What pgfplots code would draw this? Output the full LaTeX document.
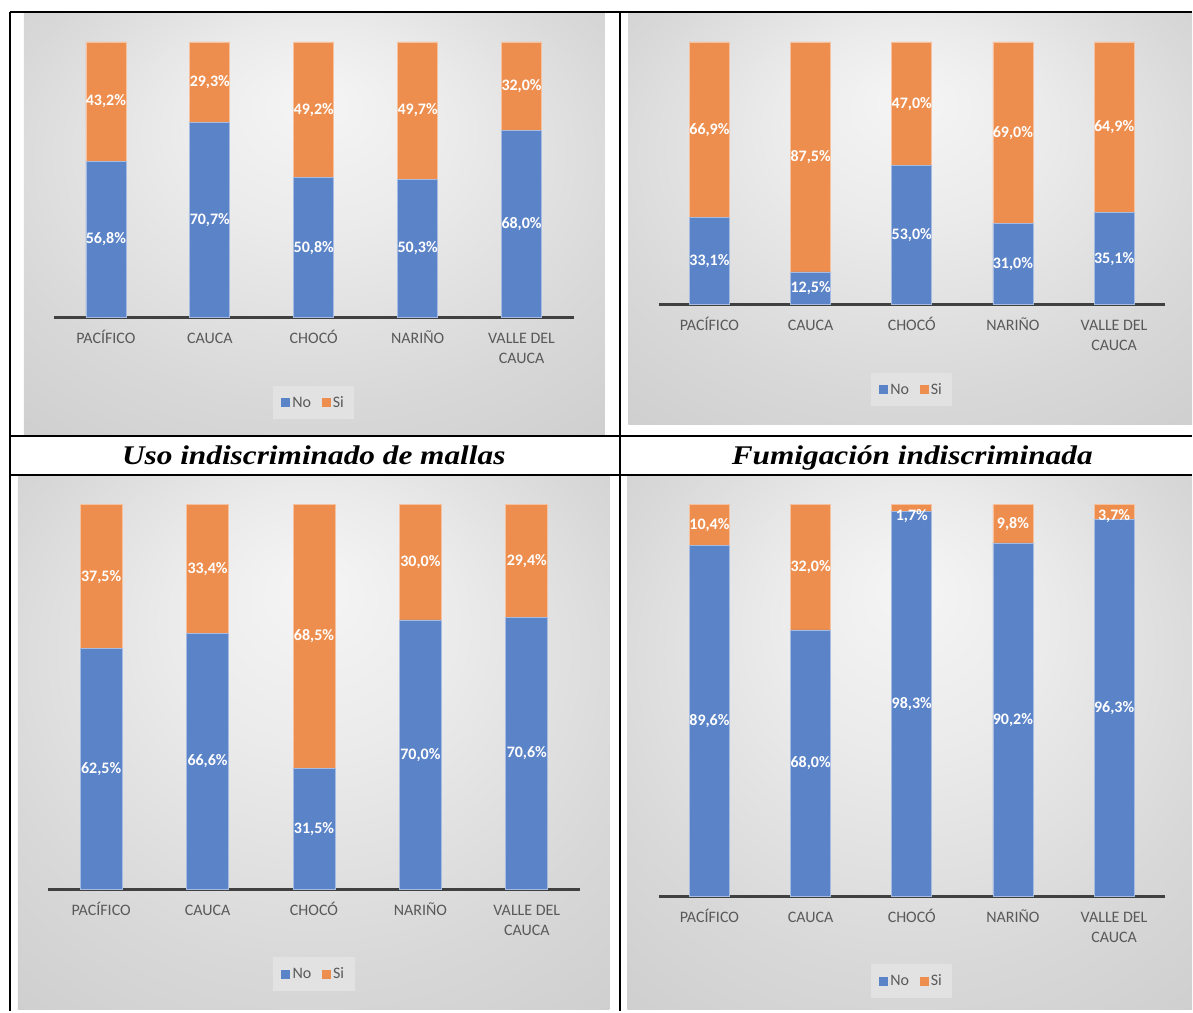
\documentclass[border=0pt]{standalone}
\usepackage{pgfplots}
\pgfplotsset{compat=1.18}
\usepackage{graphicx}
\usepackage{fontspec}
\setmainfont{Carlito}
\newfontfamily\capfont{Liberation Serif}
\definecolor{cno}{HTML}{5B83C8}
\definecolor{csi}{HTML}{EE8E4E}
\definecolor{axgray}{HTML}{404040}
\definecolor{lblgray}{HTML}{595959}
\definecolor{leggray}{HTML}{E2E2E2}
\definecolor{pa}{HTML}{F5F5F5}
\definecolor{pb}{HTML}{EBEBEB}
\definecolor{pc}{HTML}{D8D8D8}
\definecolor{pd}{HTML}{C9C9C9}
\pgfdeclareradialshading{panelshade}{\pgfpoint{0bp}{15bp}}{color(0bp)=(pa); color(12bp)=(pb); color(28bp)=(pc); color(45bp)=(pd); color(50bp)=(pd)}
\pgfplotsset{
 chartstyle/.style={
  ybar stacked, bar width=40pt,
  xmin=-0.5, xmax=4.5, ymin=0, ymax=100,
  enlargelimits=false, clip=false,
  axis x line*=bottom, axis y line=none,
  x axis line style={line width=3.5pt, color=axgray, -},
  xtick={0,1,2,3,4},
  xticklabels={PACÍFICO,CAUCA,CHOCÓ,NARIÑO,{VALLE DEL\\CAUCA}},
  major tick length=0pt,
  typeset ticklabels with strut,
  xticklabel style={align=center, text=lblgray, font=\fontsize{16}{20}\selectfont, yshift=-8.5pt},
  ytick=\empty,
  legend style={at={(0.5,0)}, anchor=center, yshift=-85pt, draw=none, fill=leggray,
    legend columns=2, font=\fontsize{16}{19}\selectfont, text=lblgray,
    inner xsep=8pt, inner ysep=8pt,
    nodes={inner sep=2.5pt},
    /tikz/every even column/.append style={column sep=8pt}},
  visualization depends on=rawy \as \rawy,
  nodes near coords={\pgfmathprintnumber[fixed,fixed zerofill,precision=1,use comma,assume math mode=true]{\rawy}\%},
  every node near coord/.append style={anchor=center, text=white,
    font=\bfseries\fontsize{16}{18}\selectfont, inner sep=0pt,
    yshift={-max(0,12-\rawy*\yu/2)*1pt}},
 },
 nostyle/.style={fill=cno, draw=cno!55!white, line width=0.7pt,
   legend image code/.code={\fill[cno] (0pt,-4pt) rectangle (8pt,4pt);}},
 sistyle/.style={fill=csi, draw=csi!55!white, line width=0.7pt,
   legend image code/.code={\fill[csi] (0pt,-4pt) rectangle (8pt,4pt);}},
}
\begin{document}
\begin{tikzpicture}
\path (0,0) rectangle (1193pt,1012pt);
% panels
\shade[shading=panelshade] (24pt,576pt) rectangle (605pt,999pt);
\shade[shading=panelshade] (629pt,587pt) rectangle (1193pt,999pt);
\shade[shading=panelshade] (18pt,2pt) rectangle (610pt,536pt);
\shade[shading=panelshade] (628pt,2pt) rectangle (1193pt,536pt);

% chart 1
\def\yu{2.76}
\begin{axis}[chartstyle, at={(54pt,694pt)}, anchor=south west, x=104pt, y=2.76pt]
\addplot[nostyle] coordinates {(0,56.8) (1,70.7) (2,50.8) (3,50.3) (4,68.0)};
\addplot[sistyle] coordinates {(0,43.2) (1,29.3) (2,49.2) (3,49.7) (4,32.0)};
\legend{No,Si}
\end{axis}

% chart 2
\def\yu{2.63}
\begin{axis}[chartstyle, at={(659.4pt,707pt)}, anchor=south west, x=101.25pt, y=2.63pt]
\addplot[nostyle] coordinates {(0,33.1) (1,12.5) (2,53.0) (3,31.0) (4,35.1)};
\addplot[sistyle] coordinates {(0,66.9) (1,87.5) (2,47.0) (3,69.0) (4,64.9)};
\legend{No,Si}
\end{axis}

% chart 3
\def\yu{3.85}
\begin{axis}[chartstyle, bar width=42pt, at={(48pt,122pt)}, anchor=south west, x=106.5pt, y=3.85pt]
\addplot[nostyle] coordinates {(0,62.5) (1,66.6) (2,31.5) (3,70.0) (4,70.6)};
\addplot[sistyle] coordinates {(0,37.5) (1,33.4) (2,68.5) (3,30.0) (4,29.4)};
\legend{No,Si}
\end{axis}

% chart 4
\def\yu{3.92}
\begin{axis}[chartstyle, at={(659.4pt,115pt)}, anchor=south west, x=101.25pt, y=3.92pt]
\addplot[nostyle] coordinates {(0,89.6) (1,68.0) (2,98.3) (3,90.2) (4,96.3)};
\addplot[sistyle] coordinates {(0,10.4) (1,32.0) (2,1.7) (3,9.8) (4,3.7)};
\legend{No,Si}
\end{axis}

% table lines
\begin{scope}[line width=2pt, black]
\draw (10pt,1000pt) -- (1193pt,1000pt);
\draw (10pt,0pt) -- (10pt,1000pt);
\draw (621pt,0pt) -- (621pt,1000pt);
\draw (10pt,575.5pt) -- (1193pt,575.5pt);
\draw (10pt,537pt) -- (1193pt,537pt);
\end{scope}

% captions
\node[anchor=base, inner sep=0pt, font=\capfont\bfseries\itshape\fontsize{27}{30}\selectfont] at (314pt,547pt) {\scalebox{1.16}[1]{Uso indiscriminado de mallas}};
\node[anchor=base, inner sep=0pt, font=\capfont\bfseries\itshape\fontsize{27}{30}\selectfont] at (913pt,547pt) {\scalebox{1.16}[1]{Fumigación indiscriminada}};
\end{tikzpicture}
\end{document}
